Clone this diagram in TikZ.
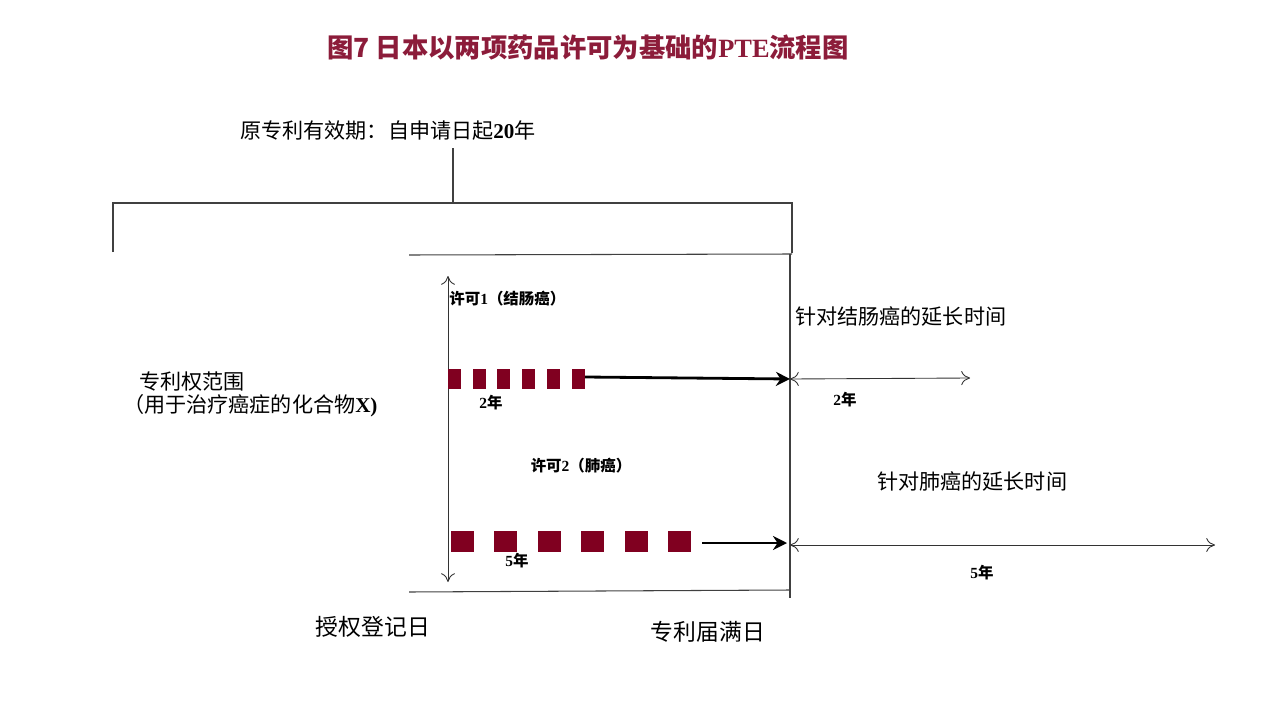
\documentclass[tikz,border=0pt]{standalone}
\usepackage{fontspec}
\setmainfont{Liberation Serif}
\newfontfamily\cjk{Noto Sans CJK SC}
\usetikzlibrary{arrows.meta}
\definecolor{titlered}{RGB}{140,28,58}
\definecolor{squarered}{RGB}{128,0,32}
\tikzset{
  rule/.style={draw=black!75, line width=0.6pt},
  span/.style={draw=black!80, line width=0.5pt, {To[length=5pt,width=8pt]}-{To[length=5pt,width=8pt]}},
  push/.style={draw=black, line width=1.6pt, -{Stealth[length=8pt,width=8pt]}},
  label/.style={inner sep=0pt, font=\cjk\fontsize{12}{14}\selectfont},
  small/.style={inner sep=0pt, font=\cjk\bfseries\fontsize{8.8}{10}\selectfont}
}
\begin{document}
\begin{tikzpicture}[x=0.02cm, y=-0.02cm]
  \useasboundingbox (0,0) rectangle (1267,713);

  % title
  \node[inner sep=0pt, text=titlered, font=\cjk\bfseries\fontsize{15}{18}\selectfont] (title) at (588,48)
    {图7 日本以两项药品许可为基础的\textbf{\fontspec{Liberation Serif}PTE}流程图};

  % original term and bracket
  \node[label] (term) at (388,131) {原专利有效期：自申请日起\textbf{\fontspec{Liberation Serif}20}年};
  \coordinate (stem) at (453,148);
  \coordinate (bl) at (113,252);
  \coordinate (tl) at (113,203);
  \coordinate (tm) at (453,203);
  \coordinate (tr) at (792,203);
  \coordinate (br) at (792,253);
  \draw[rule] (stem) -- (tm);
  \draw[rule] (bl) -- (tl) -- (tr) -- (br);

  % inner frame
  \coordinate (gl) at (409,255);
  \coordinate (gr) at (790,254);
  \coordinate (el) at (409,592);
  \coordinate (er) at (790,590);
  \coordinate (eb) at (790,598);
  \draw[rule] (gl) -- (792,254);
  \draw[rule] (gr) -- (eb);
  \draw[rule] (el) -- (er);

  % scope of the patent
  \node[label, anchor=west] (scope) at (139,382) {专利权范围};
  \node[label, anchor=west] (use) at (123,406) {（用于治疗癌症的化合物\textbf{\fontspec{Liberation Serif}X)}};

  % vertical span
  \coordinate (vt) at (448,276);
  \coordinate (vb) at (448,582);
  \draw[span] (vt) -- (vb);

  % approval 1
  \node[small, anchor=west] (lic1) at (449,299) {许可\textbf{\fontspec{Liberation Serif}1}（结肠癌）};
  \foreach \i in {0,...,5}
    \fill[squarered] (448+\i*24.7,369) rectangle ++(13,20);
  \coordinate (a1) at (585,377);
  \coordinate (x1) at (790,379);
  \coordinate (t1) at (970,378);
  \draw[push] (a1) -- (x1);
  \draw[span] (x1) -- (t1);
  \node[small] (y1) at (491,403) {\textbf{\fontspec{Liberation Serif}2}年};
  \node[small] (z1) at (845,400) {\textbf{\fontspec{Liberation Serif}2}年};
  \node[label, anchor=west] (ext1) at (795,316) {针对结肠癌的延长时间};

  % approval 2
  \node[small] (lic2) at (581,466) {许可\textbf{\fontspec{Liberation Serif}2}（肺癌）};
  \foreach \i in {0,...,5}
    \fill[squarered] (451+\i*43.4,531) rectangle ++(23,21);
  \coordinate (a2) at (702,543);
  \coordinate (x2) at (787,543);
  \coordinate (s2) at (790,545);
  \coordinate (t2) at (1215,545);
  \draw[push] (a2) -- (x2);
  \draw[span] (s2) -- (t2);
  \node[small] (y2) at (517,561) {\textbf{\fontspec{Liberation Serif}5}年};
  \node[small] (z2) at (982,573) {\textbf{\fontspec{Liberation Serif}5}年};
  \node[label, anchor=west] (ext2) at (877,481) {针对肺癌的延长时间};

  % dates
  \node[label, font=\cjk\fontsize{13}{15}\selectfont] (grant) at (373,627) {授权登记日};
  \node[label, font=\cjk\fontsize{13}{15}\selectfont] (expiry) at (708,632) {专利届满日};
\end{tikzpicture}
\end{document}
